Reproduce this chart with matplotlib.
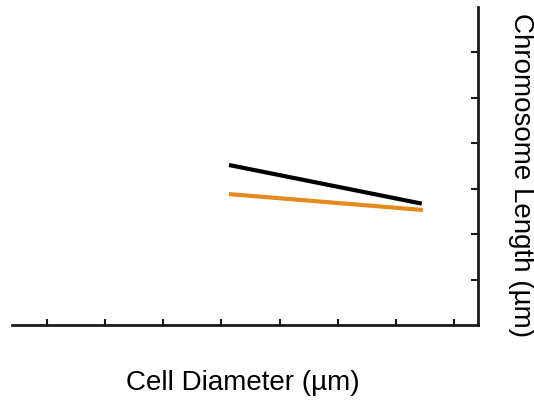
import matplotlib
matplotlib.use("Agg")
import matplotlib.pyplot as plt

plt.rcParams['font.family'] = ['Liberation Sans', 'DejaVu Sans']

# data
black_x = [4.13, 7.44]
black_y = [3.52, 2.67]
orange_x = [4.13, 7.46]
orange_y = [2.88, 2.53]
x_ticks = [1, 2, 3, 4, 5, 6, 7, 8]
y_ticks = [1, 2, 3, 4, 5, 6]

fig = plt.figure(figsize=(5.34, 4.0), dpi=100)
ax = fig.add_axes([0.0219, 0.1875, 0.8727, 0.7955])

ax.plot(black_x, black_y, color='black', lw=3.0, solid_capstyle='butt', zorder=3)
ax.plot(orange_x, orange_y, color='#E38B1F', lw=3.0, solid_capstyle='butt', zorder=2)

ax.set_xlim(0.4, 8.4)
ax.set_ylim(0, 7)
ax.set_xticks(x_ticks)
ax.set_yticks(y_ticks)
ax.set_xticklabels([])
ax.set_yticklabels([])

for s in ['left', 'top']:
    ax.spines[s].set_visible(False)
for s in ['bottom', 'right']:
    ax.spines[s].set_linewidth(2.0)
    ax.spines[s].set_color('#1a1a1a')

ax.yaxis.tick_right()
ax.tick_params(axis='x', direction='in', length=4, width=1.5, color='#1a1a1a')
ax.tick_params(axis='y', direction='in', length=5, width=1.5, color='#1a1a1a', right=True, left=False)

fig.text(0.455, 0.043, 'Cell Diameter (µm)', fontsize=20, ha='center', va='center')
fig.text(0.975, 0.5635, 'Chromosome Length (µm)', fontsize=20, rotation=270,
         ha='center', va='center')

fig.savefig('out.png', dpi=100)
